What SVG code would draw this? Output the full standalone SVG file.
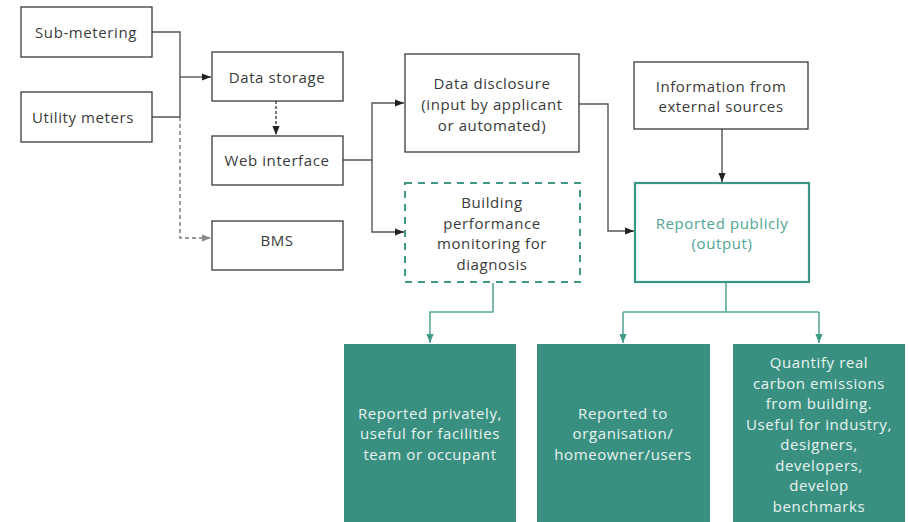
<svg xmlns="http://www.w3.org/2000/svg" width="908" height="522" viewBox="0 0 908 522">
<defs>
<style>
.box{fill:#fff;stroke:#3a3a3a;stroke-width:1.3}
.dbox{fill:#fff;stroke:#3f9a88;stroke-width:2;stroke-dasharray:7 6}
.pbox{fill:#fff;stroke:#3a9786;stroke-width:2.2}
.fbox{fill:#3a9080;stroke:none}
.t{font-family:"Open Sans","Liberation Sans",sans-serif;font-size:15px;letter-spacing:0.6px;fill:#3a3a3a;text-anchor:middle;dominant-baseline:central}
.tt{fill:#4ea594}
.tw{fill:#e8f3f0}
.ln{fill:none;stroke:#555;stroke-width:1.4}
.dl{fill:none;stroke:#777;stroke-width:1.4;stroke-dasharray:4 3}
.dk{fill:none;stroke:#333;stroke-width:1.3;stroke-dasharray:3 2}
.tl{fill:none;stroke:#5aa898;stroke-width:1.6}
</style>
<marker id="ab" viewBox="0 0 10 10" refX="10" refY="5" markerWidth="9" markerHeight="9" markerUnits="userSpaceOnUse" orient="auto"><path d="M0,1 L10,5 L0,9 z" fill="#222"/></marker>
<marker id="ag" viewBox="0 0 10 10" refX="10" refY="5" markerWidth="9" markerHeight="9" markerUnits="userSpaceOnUse" orient="auto"><path d="M0,1 L10,5 L0,9 z" fill="#888"/></marker>
<marker id="at" viewBox="0 0 10 10" refX="10" refY="5" markerWidth="9" markerHeight="9" markerUnits="userSpaceOnUse" orient="auto"><path d="M0,1 L10,5 L0,9 z" fill="#3f9a88"/></marker>
</defs>
<rect width="908" height="522" fill="#fff"/>
<g id="connectors">
<path class="ln" d="M152,32 H180 V117 H152"/>
<path class="ln" d="M180,77 H211" marker-end="url(#ab)"/>
<path class="dk" d="M276,101 V135" marker-end="url(#ab)"/>
<path class="dl" d="M180,117 V238 H211" marker-end="url(#ag)"/>
<path class="ln" d="M343,160 H372 V103 H404" marker-end="url(#ab)"/>
<path class="ln" d="M372,160 V232 H404" marker-end="url(#ab)"/>
<path class="ln" d="M579,104 H608 V231 H634" marker-end="url(#ab)"/>
<path class="ln" d="M722,129 V182" marker-end="url(#ab)"/>
<path class="tl" d="M493,283 V312 H430 V343" marker-end="url(#at)"/>
<path class="tl" d="M726,283 V312"/>
<path class="tl" d="M623,312 H819"/>
<path class="tl" d="M623,312 V343" marker-end="url(#at)"/>
<path class="tl" d="M819,312 V343" marker-end="url(#at)"/>
</g>
<g id="sub-metering"><rect class="box" x="21" y="7" width="131" height="50"/><text class="t" x="86" y="32">Sub-metering</text></g>
<g id="utility-meters"><rect class="box" x="21" y="92" width="131" height="50"/><text class="t" x="83" y="117">Utility meters</text></g>
<g id="data-storage"><rect class="box" x="212" y="52" width="131" height="49"/><text class="t" x="277" y="77">Data storage</text></g>
<g id="web-interface"><rect class="box" x="212" y="136" width="131" height="49"/><text class="t" x="277" y="160">Web interface</text></g>
<g id="bms"><rect class="box" x="212" y="221" width="131" height="49"/><text class="t" x="277" y="240">BMS</text></g>
<g id="data-disclosure"><rect class="box" x="405" y="54" width="174" height="98"/><text class="t" x="492" y="83">Data disclosure</text><text class="t" x="492" y="104">(input by applicant</text><text class="t" x="492" y="125">or automated)</text></g>
<g id="information"><rect class="box" x="634" y="62" width="174" height="67"/><text class="t" x="721" y="86">Information from</text><text class="t" x="721" y="106">external sources</text></g>
<g id="building-performance"><rect class="dbox" x="405" y="183" width="175" height="99"/><text class="t" x="492" y="202">Building</text><text class="t" x="492" y="223">performance</text><text class="t" x="492" y="243">monitoring for</text><text class="t" x="492" y="264">diagnosis</text></g>
<g id="reported-publicly"><rect class="pbox" x="635" y="183" width="174" height="99"/><text class="t tt" x="722" y="223">Reported publicly</text><text class="t tt" x="722" y="243">(output)</text></g>
<g id="reported-privately"><rect class="fbox" x="344" y="344" width="172" height="180"/><text class="t tw" x="430" y="413">Reported privately,</text><text class="t tw" x="430" y="433">useful for facilities</text><text class="t tw" x="430" y="454">team or occupant</text></g>
<g id="reported-organisation"><rect class="fbox" x="537" y="344" width="173" height="180"/><text class="t tw" x="623" y="413">Reported to</text><text class="t tw" x="623" y="433">organisation/</text><text class="t tw" x="623" y="454">homeowner/users</text></g>
<g id="quantify"><rect class="fbox" x="733" y="344" width="172" height="180"/><text class="t tw" x="819" y="362">Quantify real</text><text class="t tw" x="819" y="383">carbon emissions</text><text class="t tw" x="819" y="403">from building.</text><text class="t tw" x="819" y="424">Useful for industry,</text><text class="t tw" x="819" y="444">designers,</text><text class="t tw" x="819" y="465">developers,</text><text class="t tw" x="819" y="485">develop</text><text class="t tw" x="819" y="506">benchmarks</text></g>
</svg>
